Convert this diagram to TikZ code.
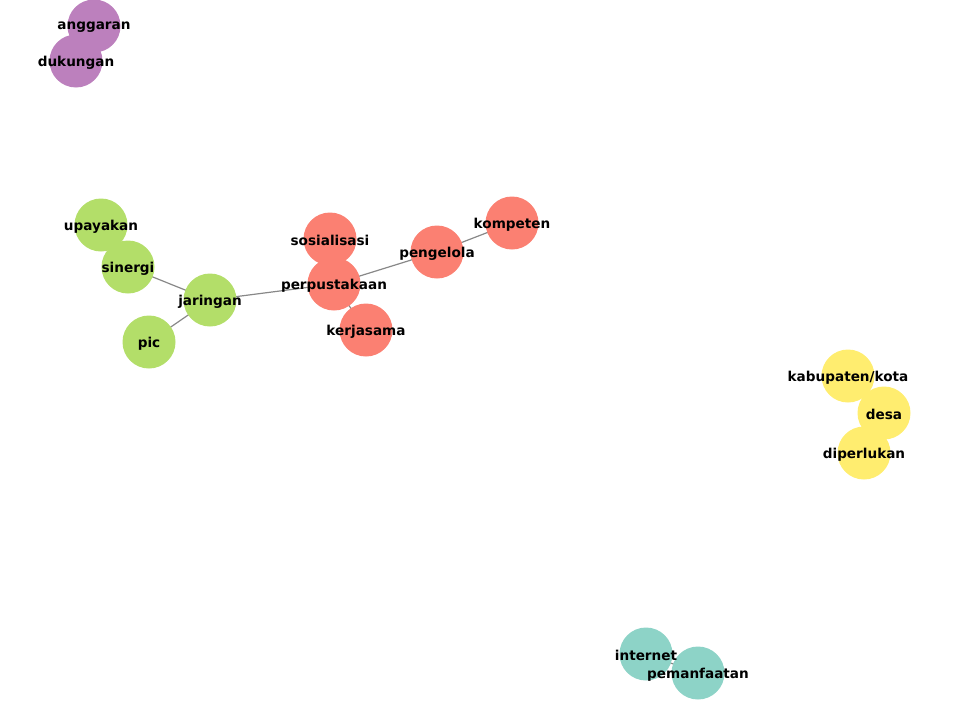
\documentclass[tikz,border=0pt]{standalone}
\usepackage{fontspec}
\setmainfont{DejaVu Sans}
\definecolor{cpurple}{HTML}{BC80BD}
\definecolor{cgreen}{HTML}{B3DE69}
\definecolor{cred}{HTML}{FB8072}
\definecolor{cyellow}{HTML}{FFED6F}
\definecolor{cteal}{HTML}{8DD3C7}
\definecolor{cedge}{HTML}{888888}
\begin{document}
\begin{tikzpicture}[x=1pt,y=-1pt,
  dot/.style={circle,minimum size=53pt,inner sep=0pt,draw=none},
  lbl/.style={font=\fontsize{13.6}{15}\selectfont\bfseries,text=black,inner sep=0pt,yshift=-1.5pt},
  edge/.style={draw=cedge,line width=1.2pt}]
\useasboundingbox (0,0) rectangle (960,720);
% coordinates
\coordinate (anggaran) at (94,26);
\coordinate (dukungan) at (76,61);
\coordinate (upayakan) at (101,225);
\coordinate (sinergi) at (128,267);
\coordinate (jaringan) at (210,300);
\coordinate (pic) at (149,342);
\coordinate (sosialisasi) at (330,239);
\coordinate (perpustakaan) at (334,284);
\coordinate (kerjasama) at (366,330);
\coordinate (pengelola) at (437,252);
\coordinate (kompeten) at (512,223);
\coordinate (kabupaten) at (848,376);
\coordinate (desa) at (884,413);
\coordinate (diperlukan) at (864,453);
\coordinate (internet) at (646,654);
\coordinate (pemanfaatan) at (698,673);
% edges
\draw[edge] (anggaran) -- (dukungan);
\draw[edge] (upayakan) -- (sinergi);
\draw[edge] (sinergi) -- (jaringan);
\draw[edge] (jaringan) -- (pic);
\draw[edge] (jaringan) -- (perpustakaan);
\draw[edge] (sosialisasi) -- (perpustakaan);
\draw[edge] (perpustakaan) -- (kerjasama);
\draw[edge] (perpustakaan) -- (pengelola);
\draw[edge] (pengelola) -- (kompeten);
\draw[edge] (kabupaten) -- (desa);
\draw[edge] (desa) -- (diperlukan);
\draw[edge] (internet) -- (pemanfaatan);
% nodes
\node[dot,fill=cpurple] (n1) at (anggaran) {};
\node[dot,fill=cpurple] (n2) at (dukungan) {};
\node[dot,fill=cgreen] (n3) at (upayakan) {};
\node[dot,fill=cgreen] (n4) at (sinergi) {};
\node[dot,fill=cgreen] (n5) at (jaringan) {};
\node[dot,fill=cgreen] (n6) at (pic) {};
\node[dot,fill=cred] (n7) at (sosialisasi) {};
\node[dot,fill=cred] (n8) at (perpustakaan) {};
\node[dot,fill=cred] (n9) at (kerjasama) {};
\node[dot,fill=cred] (n10) at (pengelola) {};
\node[dot,fill=cred] (n11) at (kompeten) {};
\node[dot,fill=cyellow] (n12) at (kabupaten) {};
\node[dot,fill=cyellow] (n13) at (desa) {};
\node[dot,fill=cyellow] (n14) at (diperlukan) {};
\node[dot,fill=cteal] (n15) at (internet) {};
\node[dot,fill=cteal] (n16) at (pemanfaatan) {};
% labels
\node[lbl] (l1) at (anggaran) {anggaran};
\node[lbl] (l2) at (dukungan) {dukungan};
\node[lbl] (l3) at (upayakan) {upayakan};
\node[lbl] (l4) at (sinergi) {sinergi};
\node[lbl] (l5) at (jaringan) {jaringan};
\node[lbl] (l6) at (pic) {pic};
\node[lbl] (l7) at (sosialisasi) {sosialisasi};
\node[lbl] (l8) at (perpustakaan) {perpustakaan};
\node[lbl] (l9) at (kerjasama) {kerjasama};
\node[lbl] (l10) at (pengelola) {pengelola};
\node[lbl] (l11) at (kompeten) {kompeten};
\node[lbl] (l12) at (kabupaten) {kabupaten/kota};
\node[lbl] (l13) at (desa) {desa};
\node[lbl] (l14) at (diperlukan) {diperlukan};
\node[lbl] (l15) at (internet) {internet};
\node[lbl] (l16) at (pemanfaatan) {pemanfaatan};
\end{tikzpicture}
\end{document}
